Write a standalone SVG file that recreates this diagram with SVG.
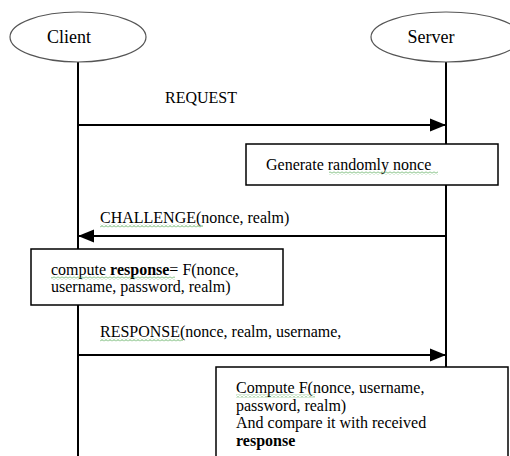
<svg xmlns="http://www.w3.org/2000/svg" width="510" height="456" viewBox="0 0 510 456">
  <style>
    .actor { fill: #fff; stroke: #555; stroke-width: 1.2; }
    .life { stroke: #000; stroke-width: 2; fill: none; }
    .msg { stroke: #000; stroke-width: 2; fill: none; }
    .box { fill: #fff; stroke: #000; stroke-width: 1.5; }
    text { font-family: 'Liberation Serif', 'DejaVu Serif', 'Noto Serif', Tinos, 'Times New Roman', serif; fill: #000; }
    .name { font-size: 18px; text-anchor: middle; }
    .lbl { font-size: 16px; }
  </style>
  <defs>
    <marker id="head" markerUnits="userSpaceOnUse" markerWidth="16" markerHeight="14" refX="16" refY="7" orient="auto">
      <polygon points="0,0.5 16,7 0,13.5" fill="#000"/>
    </marker>
    <pattern id="squig" patternUnits="userSpaceOnUse" width="4" height="3">
      <polyline points="0,2.5 2,0.5 4,2.5" fill="none" stroke="#3c9a3c" stroke-width="0.8"/>
    </pattern>
  </defs>

  <rect width="510" height="456" fill="#fff"/>

  <!-- lifelines -->
  <g id="lifelines">
    <line class="life" x1="78" y1="62" x2="78" y2="456"/>
    <line class="life" x1="446" y1="62" x2="446" y2="456"/>
  </g>

  <g id="client">
    <ellipse class="actor" cx="78" cy="37" rx="68" ry="25"/>
    <text class="name" x="69" y="43" font-family="Liberation Serif, DejaVu Serif, serif">Client</text>
  </g>

  <g id="server">
    <ellipse class="actor" cx="446" cy="37" rx="75" ry="25"/>
    <text class="name" x="431" y="43">Server</text>
  </g>

  <!-- messages -->
  <g id="connectors">
    <line class="msg" x1="78" y1="125" x2="446" y2="125" marker-end="url(#head)"/>
    <line class="msg" x1="446" y1="236" x2="78" y2="236" marker-end="url(#head)"/>
    <line class="msg" x1="78" y1="355" x2="446" y2="355" marker-end="url(#head)"/>
    <text class="lbl" x="165" y="103">REQUEST</text>
    <text class="lbl" x="100" y="223">CHALLENGE(nonce, realm)</text>
    <text class="lbl" x="100" y="337">RESPONSE(nonce, realm, username,</text>
    <rect x="100" y="224.5" width="103" height="3" fill="url(#squig)"/>
    <rect x="100" y="338.5" width="83" height="3" fill="url(#squig)"/>
  </g>

  <g id="generate">
    <rect class="box" x="246" y="144" width="252" height="41"/>
    <text class="lbl" x="266" y="170">Generate randomly  nonce</text>
    <rect x="329" y="171.5" width="109" height="3" fill="url(#squig)"/>
  </g>

  <g id="client-compute">
    <rect class="box" x="31" y="249" width="252" height="56"/>
    <text class="lbl" x="51" y="275">compute  <tspan font-weight="bold">response</tspan>= F(nonce,</text>
    <text class="lbl" x="51" y="292">username, password, realm)</text>
    <rect x="51" y="276.5" width="124" height="3" fill="url(#squig)"/>
  </g>

  <g id="server-compute">
    <rect class="box" x="216" y="367" width="292" height="100"/>
    <text class="lbl" x="236" y="393">Compute  F(nonce, username,</text>
    <text class="lbl" x="236" y="411">password, realm)</text>
    <text class="lbl" x="236" y="428">And compare it with received</text>
    <text class="lbl" x="236" y="446" font-weight="bold">response</text>
    <rect x="236" y="394.5" width="79" height="3" fill="url(#squig)"/>
  </g>
</svg>
